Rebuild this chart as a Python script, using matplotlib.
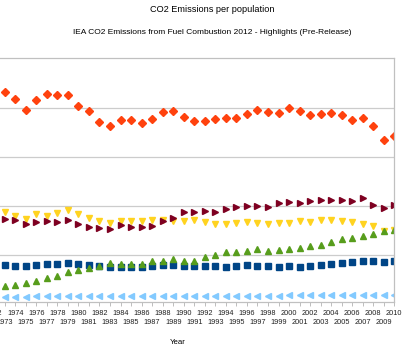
import numpy as np
import matplotlib.pyplot as plt

plt.rcParams['font.family'] = ['Liberation Sans', 'DejaVu Sans']

years = list(range(1973, 2011))

# values (t CO2 per capita, axis labels are cut off)
orange = [21.61, 20.84, 19.79, 20.77, 21.38, 21.25, 21.25, 20.16, 19.62, 18.51,
          18.16, 18.77, 18.71, 18.44, 18.84, 19.52, 19.62, 19.08, 18.67, 18.67,
          18.84, 18.95, 18.95, 19.35, 19.76, 19.52, 19.45, 19.93, 19.62, 19.22,
          19.35, 19.45, 19.28, 18.77, 18.91, 18.16, 16.74, 17.15]
maroon = [8.67, 8.57, 8.19, 8.40, 8.53, 8.43, 8.60, 8.19, 7.92, 7.76,
          7.66, 8.12, 7.92, 7.92, 8.02, 8.53, 8.77, 9.38, 9.41, 9.48,
          9.41, 9.75, 9.89, 10.02, 10.02, 9.95, 10.32, 10.40, 10.36, 10.56,
          10.60, 10.63, 10.63, 10.56, 10.83, 10.15, 9.85, 10.09]
yellow = [9.38, 9.04, 8.67, 9.18, 9.04, 9.34, 9.61, 9.21, 8.77, 8.50,
          8.33, 8.50, 8.53, 8.53, 8.60, 8.60, 8.50, 8.50, 8.57, 8.37,
          8.16, 8.16, 8.27, 8.43, 8.27, 8.23, 8.33, 8.33, 8.50, 8.43,
          8.60, 8.60, 8.50, 8.43, 8.19, 8.02, 7.52, 7.62]
green = [1.94, 2.01, 2.18, 2.41, 2.69, 2.92, 3.36, 3.50, 3.73, 3.93,
         4.21, 4.14, 4.17, 4.14, 4.44, 4.47, 4.64, 4.44, 4.41, 4.85,
         5.02, 5.36, 5.39, 5.46, 5.63, 5.49, 5.56, 5.69, 5.79, 5.96,
         6.10, 6.37, 6.64, 6.74, 6.95, 7.21, 7.45, 7.59]
blue = [4.04, 3.93, 3.93, 4.04, 4.11, 4.17, 4.21, 4.11, 4.00, 3.90,
        3.83, 3.86, 3.86, 3.83, 3.93, 4.00, 4.07, 3.97, 3.97, 3.93,
        3.90, 3.86, 3.90, 4.00, 3.93, 3.93, 3.86, 3.90, 3.86, 3.93,
        4.07, 4.17, 4.24, 4.31, 4.41, 4.44, 4.34, 4.47]
lightblue = [0.79, 0.79, 0.82, 0.86, 0.86, 0.86, 0.86, 0.90, 0.93, 0.93,
             0.93, 0.93, 0.93, 0.93, 0.93, 0.93, 0.93, 0.93, 0.93, 0.93,
             0.93, 0.93, 0.93, 0.93, 0.93, 0.93, 0.93, 0.95, 0.95, 0.95,
             0.95, 0.97, 0.97, 0.97, 0.99, 1.03, 0.99, 0.99]

even_years = list(range(1972, 2011, 2))
odd_years = list(range(1971, 2010, 2))

fig = plt.figure(figsize=(4.17, 3.48), dpi=100)
ax = fig.add_axes([-0.0393, 0.1322, 0.985, 0.7003])

ms = 4.2
ax.plot(years, blue, ls='none', marker='s', color='#004586', ms=ms, mec='#004586')
ax.plot(years, orange, ls='none', marker='D', color='#FF420E', ms=ms)
ax.plot(years, yellow, ls='none', marker='v', color='#FFD320', ms=ms + 0.6)
ax.plot(years, green, ls='none', marker='^', color='#579D1C', ms=ms + 0.6)
ax.plot(years, maroon, ls='none', marker='>', color='#7E0021', ms=ms + 0.6)
ax.plot(years, lightblue, ls='none', marker='<', color='#83CAFF', ms=ms + 0.6)

ax.set_xlim(1971, 2010)
ax.set_ylim(0.28, 25)
ax.set_yticks([5, 10, 15, 20])
ax.yaxis.grid(True, color='#cccccc', lw=0.9)
ax.tick_params(axis='y', length=0, labelleft=False)

# even years on the first row, odd years on a second row below
ax.set_xticks(even_years)
ax.set_xticklabels([str(t) for t in even_years], fontsize=5.3, color='#222222')
ax.set_xticks(odd_years, minor=True)
ax.set_xticklabels([str(t) for t in odd_years], minor=True, fontsize=5.3, color='#222222')
ax.tick_params(axis='x', which='major', length=2.8, width=0.6, color='#b3b3b3', pad=3.0)
ax.tick_params(axis='x', which='minor', length=2.8, width=0.6, color='#b3b3b3', pad=9.7)
for s in ax.spines.values():
    s.set_color('#c0c0c0')
    s.set_linewidth(0.9)
ax.spines['left'].set_visible(False)

fig.text(212 / 417, 1 - 9 / 348, 'CO2 Emissions per population',
         ha='center', va='center', fontsize=6.6)
fig.text(212 / 417, 1 - 33 / 348,
         'IEA CO2 Emissions from Fuel Combustion 2012 - Highlights (Pre-Release)',
         ha='center', va='center', fontsize=6.0)
fig.text(178 / 417, 1 - 342 / 348, 'Year', ha='center', va='center', fontsize=5.6)

fig.savefig('out.png', dpi=100)
